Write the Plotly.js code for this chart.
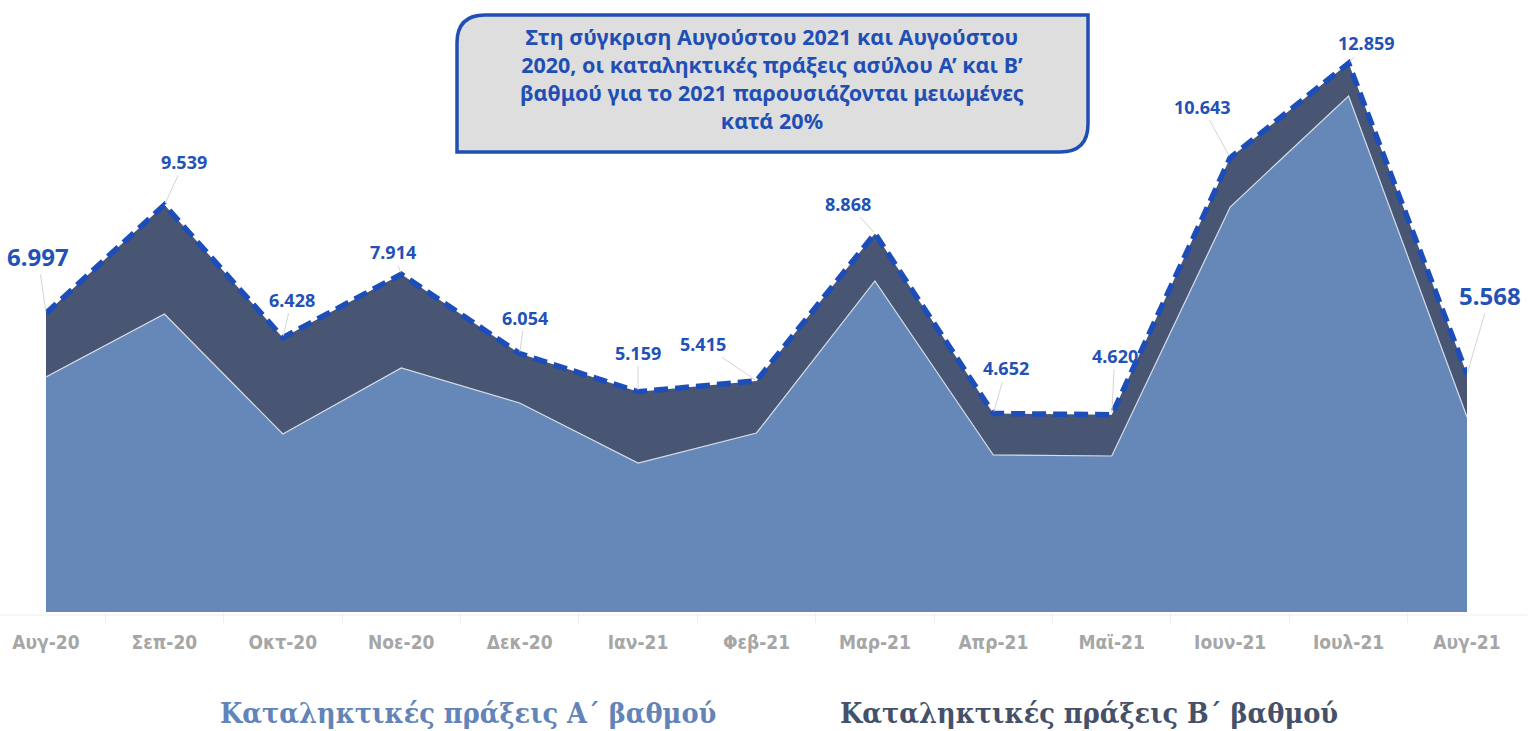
<!DOCTYPE html>
<html>
<head>
<meta charset="utf-8">
<script src="https://cdn.plot.ly/plotly-3.0.1.min.js"></script>
<style>html,body{margin:0;padding:0;background:#fff;}#chart{width:1532px;height:731px;}</style>
</head>
<body>
<div id="chart"></div>
<script>
// ---- data ----
const months = ['Αυγ-20','Σεπ-20','Οκτ-20','Νοε-20','Δεκ-20','Ιαν-21','Φεβ-21','Μαρ-21','Απρ-21','Μαϊ-21','Ιουν-21','Ιουλ-21','Αυγ-21'];
const totals = [6997, 9539, 6428, 7914, 6054, 5159, 5415, 8868, 4652, 4620, 10643, 12859, 5568];
const gradeA = [5506, 6982, 4171, 5717, 4897, 3491, 4194, 7755, 3679, 3655, 9489, 12090, 4569];
const gradeB = [1491, 2557, 2257, 2197, 1157, 1668, 1221, 1113, 973, 965, 1154, 769, 999];
const seriesNames = ['Καταληκτικές πράξεις Α΄ βαθμού', 'Καταληκτικές πράξεις Β΄ βαθμού'];
const boxLines = ['Στη σύγκριση Αυγούστου 2021 και Αυγούστου',
                  '2020, οι καταληκτικές πράξεις ασύλου Α’ και Β’',
                  'βαθμού για το 2021 παρουσιάζονται μειωμένες',
                  'κατά 20%'];

// ---- styling / layout helpers ----
const W = 1532, H = 731;
const M = {l: 46, r: 65, t: 20, b: 119};
const plotW = W - M.l - M.r, plotH = H - M.t - M.b;
const px2x = p => (p - M.l) / plotW;
const py2y = p => (H - M.b - p) / plotH;

// pixel offsets of the value labels from their points
const labelOffsets = [[-8,-57],[20,-43],[9,-38],[-8,-22],[5,-36],[0,-39],[-54,-37],[-27,-30],[13,-45],[3,-59],[-28,-51],[18,-20],[23,-79]];
const bigLabel = [true,false,false,false,false,false,false,false,false,false,false,false,true];

const fmt = v => Math.floor(v/1000) + '.' + String(v % 1000).padStart(3, '0');

const colA = '#6688B9', colB = '#485673', blue = '#1C4DB8';

const traces = [
  {x: months, y: gradeA, type: 'scatter', mode: 'lines', stackgroup: 's', name: seriesNames[0],
   line: {color: '#D6DCE6', width: 1.2}, fillcolor: colA, hoverinfo: 'skip'},
  {x: months, y: gradeB, type: 'scatter', mode: 'lines', stackgroup: 's', name: seriesNames[1],
   line: {color: colB, width: 0}, fillcolor: colB, hoverinfo: 'skip'},
  {x: months, y: totals, type: 'scatter', mode: 'lines', name: 'Σύνολο',
   line: {color: blue, width: 5.5, dash: '14px,7px'}, hoverinfo: 'skip'}
];

const annotations = totals.map((v, i) => ({
  x: months[i], y: v, xref: 'x', yref: 'y',
  text: fmt(v), showarrow: true, arrowhead: 0, arrowwidth: 1, arrowcolor: '#D4D4D4',
  ax: labelOffsets[i][0], ay: labelOffsets[i][1], standoff: 2,
  font: {family: 'Noto Sans, sans-serif', size: bigLabel[i] ? 24 : 18, color: '#2251B8', weight: 'bold'}
}));

annotations.push({
  xref: 'paper', yref: 'paper', x: px2x(772), y: py2y(78), xanchor: 'center', yanchor: 'middle',
  text: boxLines.join('<br>'), showarrow: false, align: 'center',
  font: {family: 'Noto Sans, sans-serif', size: 21.5, color: '#1F4FB5', weight: 'bold'}
});
annotations.push({
  xref: 'paper', yref: 'paper', x: px2x(468), y: py2y(713), xanchor: 'center', yanchor: 'middle',
  text: '<b>' + seriesNames[0] + '</b>', showarrow: false,
  font: {family: 'DejaVu Serif Condensed, DejaVu Serif, serif', size: 28.5, color: '#6384B8'}
});
annotations.push({
  xref: 'paper', yref: 'paper', x: px2x(1089), y: py2y(713), xanchor: 'center', yanchor: 'middle',
  text: '<b>' + seriesNames[1] + '</b>', showarrow: false,
  font: {family: 'DejaVu Serif Condensed, DejaVu Serif, serif', size: 28.5, color: '#455169'}
});

// rounded-corner callout box (top-left and bottom-right rounded)
const L = 457, R = 1088, T = 15, B = 152, r = 28;
const P = (x, y) => px2x(x).toFixed(5) + ',' + py2y(y).toFixed(5);
const boxPath = 'M' + P(L, B) + ' L' + P(L, T + r) + ' Q' + P(L, T) + ' ' + P(L + r, T) +
  ' L' + P(R, T) + ' L' + P(R, B - r) + ' Q' + P(R, B) + ' ' + P(R - r, B) + ' Z';

const shapes = [
  {type: 'line', xref: 'paper', yref: 'paper', x0: px2x(0), x1: px2x(1527), y0: py2y(615), y1: py2y(615),
   line: {color: '#EEEEEE', width: 1}, layer: 'below'},
  {type: 'path', xref: 'paper', yref: 'paper', path: boxPath, fillcolor: '#DEDEDE',
   line: {color: '#1F4FB5', width: 3.5}, layer: 'below'}
];

const layout = {
  width: W, height: H, margin: M, paper_bgcolor: '#FFFFFF', plot_bgcolor: 'rgba(0,0,0,0)',
  showlegend: false,
  xaxis: {type: 'category', range: [0, 12], autorange: false, showgrid: false, zeroline: false,
          showline: false, ticks: '', ticklabelstandoff: 17,
          tickfont: {family: 'Liberation Sans Narrow, DejaVu Sans Condensed, sans-serif', size: 19, color: '#A6A6A6', weight: 'bold'},
          minor: {ticks: 'outside', ticklen: 10, tickcolor: '#EEEEEE', tick0: 0.5, dtick: 1}},
  yaxis: {range: [0, 13870], autorange: false, showgrid: false, zeroline: false, showticklabels: false, ticks: ''},
  annotations: annotations,
  shapes: shapes
};

Plotly.newPlot('chart', traces, layout, {staticPlot: true, displayModeBar: false});
</script>
</body>
</html>
